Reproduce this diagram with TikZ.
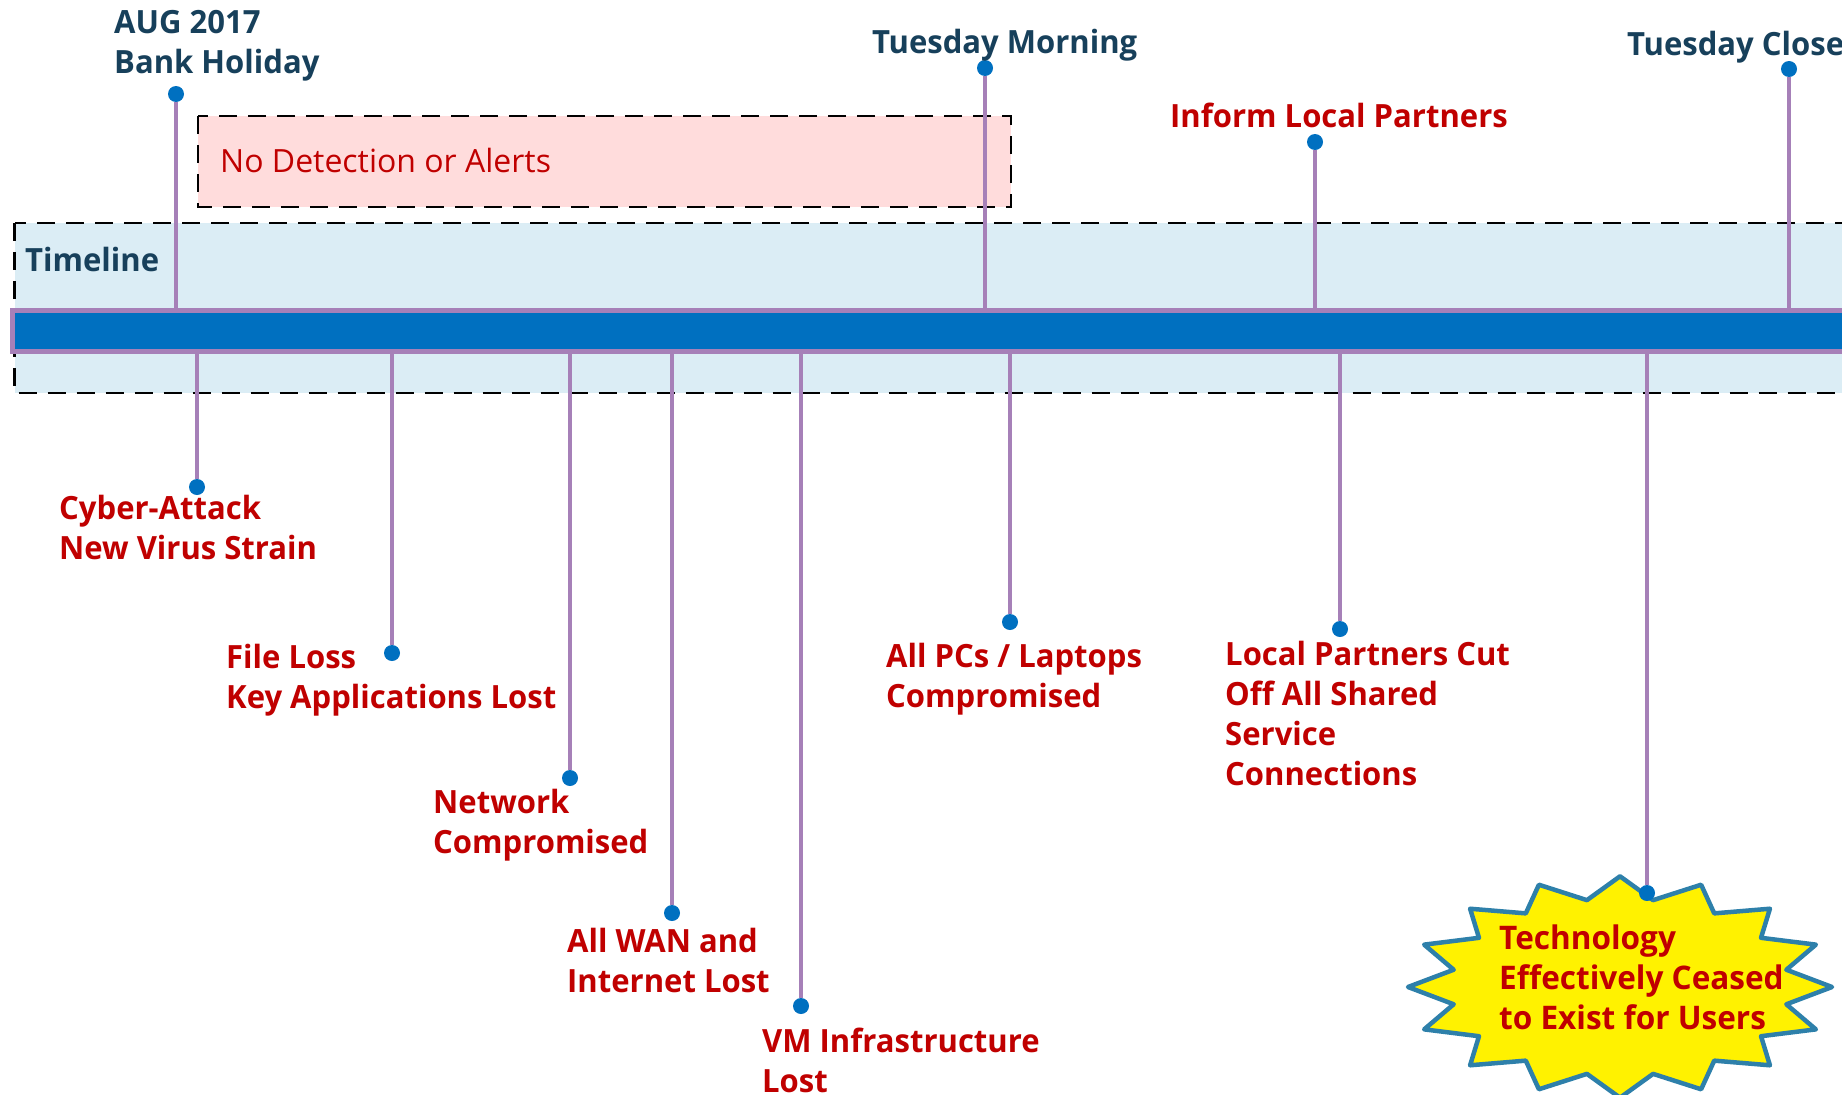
\documentclass[tikz,border=0pt]{standalone}
\usepackage{fontspec}
\setmainfont{Open Sans}[BoldFeatures={FakeStretch=0.97}]
\definecolor{navy}{HTML}{17405B}
\definecolor{txtred}{HTML}{C00000}
\definecolor{stemc}{HTML}{A680B8}
\definecolor{dotblue}{HTML}{0070C0}
\definecolor{tlfill}{HTML}{DBEDF5}
\definecolor{pinkfill}{HTML}{FFDCDC}
\definecolor{burstline}{HTML}{2E80AA}
\begin{document}
\begin{tikzpicture}[x=1pt,y=-1pt,
  lbl/.style={anchor=base west, inner sep=0pt, align=left, font=\fontsize{32}{40}\selectfont\bfseries},
  redlbl/.style={lbl, text=txtred},
  navylbl/.style={lbl, text=navy},
  evdot/.style={circle, fill=dotblue, inner sep=0pt, minimum size=16pt},
  stem/.style={draw=stemc, line width=4.5pt},
  dashbox/.style={draw=black, line width=2.5pt, dash pattern=on 18pt off 11pt},
  barbox/.style={draw=stemc, fill=dotblue, line width=5pt, minimum width=1858pt, minimum height=41pt, inner sep=0pt}
]
\useasboundingbox (0,0) rectangle (1842,1095);
\fill[white] (0,0) rectangle (1842,1095);

% containers
\draw[dashbox, fill=tlfill] (14.5,223) rectangle (1880,393);
\draw[dashbox, fill=pinkfill] (198,116) rectangle (1011,207);
\node[anchor=base west, inner sep=0pt, text=txtred, font=\fontsize{32}{40}\selectfont] (nodet) at (220,172) {No Detection or Alerts};
\node[navylbl] (tltitle) at (25,271) {Timeline};

% bar
\node[barbox] (bar) at (941,331) {};

% starburst
\draw[burstline, fill=yellow, line width=4.5pt, line join=round]
  plot[samples at={0,...,31}, variable=\i]
  ({1620+212*(1-0.2*mod(\i,2))*cos(\i*11.25)}, {987+110.7*(1-0.2*mod(\i,2))*sin(\i*11.25)}) -- cycle;

% dots above
\node[evdot] (dAug) at (176,94) {};
\node[evdot] (dMorn) at (985,68) {};
\node[evdot] (dInf) at (1315,142) {};
\node[evdot] (dClose) at (1789,69) {};
% dots below
\node[evdot] (dCyb) at (197,487) {};
\node[evdot] (dFile) at (392,653) {};
\node[evdot] (dNet) at (570,778) {};
\node[evdot] (dWan) at (672,913) {};
\node[evdot] (dVm) at (801,1006) {};
\node[evdot] (dPc) at (1010,622) {};
\node[evdot] (dLp) at (1340,629) {};
\node[evdot] (dTech) at (1647,893) {};

% stems
\foreach \d in {dAug,dMorn,dInf,dClose}{
  \draw[stem] (\d) -- (\d |- bar.north);
}
\foreach \d in {dCyb,dFile,dNet,dWan,dVm,dPc,dLp,dTech}{
  \draw[stem] (\d) -- (\d |- bar.south);
}

% labels above (anchor = baseline of last line)
\node[navylbl] (tAug) at (114,73) {AUG 2017\\Bank Holiday};
\node[navylbl] (tMorn) at (872,53) {Tuesday Morning};
\node[redlbl] (tInf) at (1170,127) {Inform Local Partners};
\node[navylbl] (tClose) at (1627,55) {Tuesday Close};

% labels below
\node[redlbl] (tCyb) at (59,559) {Cyber-Attack\\New Virus Strain};
\node[redlbl] (tFile) at (226,708) {File Loss\\Key Applications Lost};
\node[redlbl] (tNet) at (433,853) {Network\\Compromised};
\node[redlbl] (tWan) at (567,992) {All WAN and\\Internet Lost};
\node[redlbl] (tVm) at (762,1092) {VM Infrastructure\\Lost};
\node[redlbl] (tPc) at (886,707) {All PCs / Laptops\\Compromised};
\node[redlbl] (tLp) at (1225,785) {Local Partners Cut\\Off All Shared\\Service\\Connections};
\node[redlbl, font=\fontsize{32.5}{40}\selectfont\bfseries] (tTech) at (1499,1029) {Technology\\Effectively Ceased\\to Exist for Users};
\end{tikzpicture}
\end{document}
